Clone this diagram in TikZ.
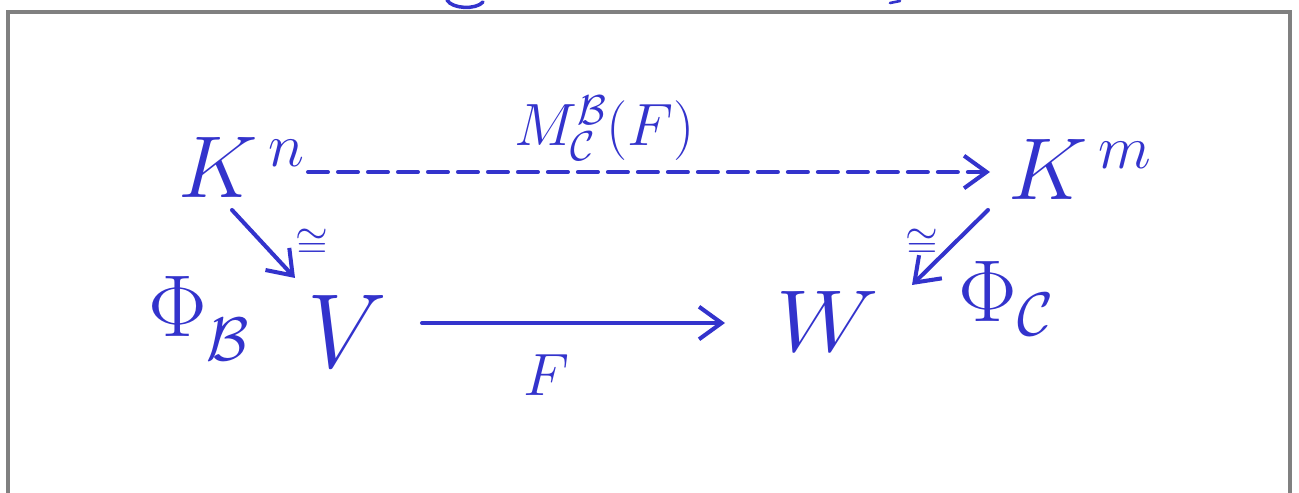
\RequirePackage{fix-cm}
\documentclass[tikz,border=0pt]{standalone}
\usepackage{amsmath}
\usetikzlibrary{arrows.meta,calc}
\definecolor{ink}{RGB}{51,51,204}
\definecolor{framecol}{RGB}{128,128,128}
\begin{document}
\begin{tikzpicture}[x=0.02cm,y=-0.02cm,
  obj/.style={font=\fontsize{50}{60}\selectfont, text=ink, inner sep=0pt},
  lab/.style={font=\fontsize{34}{42}\selectfont, text=ink, inner sep=0pt},
  iso/.style={font=\fontsize{24}{28}\selectfont, text=ink, inner sep=0pt},
  arr/.style={draw=ink, line width=2.3pt, line cap=round, -{Straight Barb[length=0.45cm,width=0.65cm,line width=2.3pt]}},
  dasharr/.style={arr, dash pattern=on 0.4cm off 0.2cm}]
\useasboundingbox (0,0) rectangle (1299,493);
\draw[framecol, line width=2.2pt] (8,493) -- (8,12) -- (1290,12) -- (1290,493);
% fragments at top edge
\draw[ink, line width=2pt, line cap=round] (447,0) .. controls (452,9) and (476,10) .. (483,2);
\draw[ink, line width=1.5pt, line cap=round] (890,3) -- (900,1);
% objects
\node[obj, anchor=base west] (Kn) at (178,198) {$K^{\,n}$};
\node[obj, anchor=base west] (Km) at (1008,200) {$K^{\,m}$};
\node[obj, anchor=base, xscale=1.15, yscale=1.2] (V) at (347,368) {$V$};
\node[obj, anchor=base, xscale=1.1] (W) at (828,352) {$W$};
% labels
\node[lab, anchor=base west] (M) at (514,146) {$M^{\mathcal{B}}_{\mathcal{C}}(F)$};
\node[obj, anchor=base west] (PhiB) at (148,337) {$\Phi_{\raisebox{-6pt}{$\scriptstyle\mathcal{B}$}}$};
\node[obj, anchor=base west] (PhiC) at (958,322) {$\Phi_{\mathcal{C}}$};
\node[lab, anchor=base] (F) at (546,396) {$F$};
\node[iso] (isoL) at (312,244) {$\cong$};
\node[iso] (isoR) at (922,244) {$\cong$};
% arrows
\draw[dasharr] ($(Kn.base west)+(130,-26)$) -- ($(Km.base west)+(-18,-28)$);
\draw[arr] ($(Kn.base west)+(54,12)$) -- ($(V.base)+(-52,-90)$);
\draw[arr] ($(Km.base west)+(-20,10)$) -- ($(W.base)+(84,-67)$);
\draw[arr] ($(V.base)+(75,-45)$) -- ($(W.base)+(-103,-29)$);
\end{tikzpicture}
\end{document}
